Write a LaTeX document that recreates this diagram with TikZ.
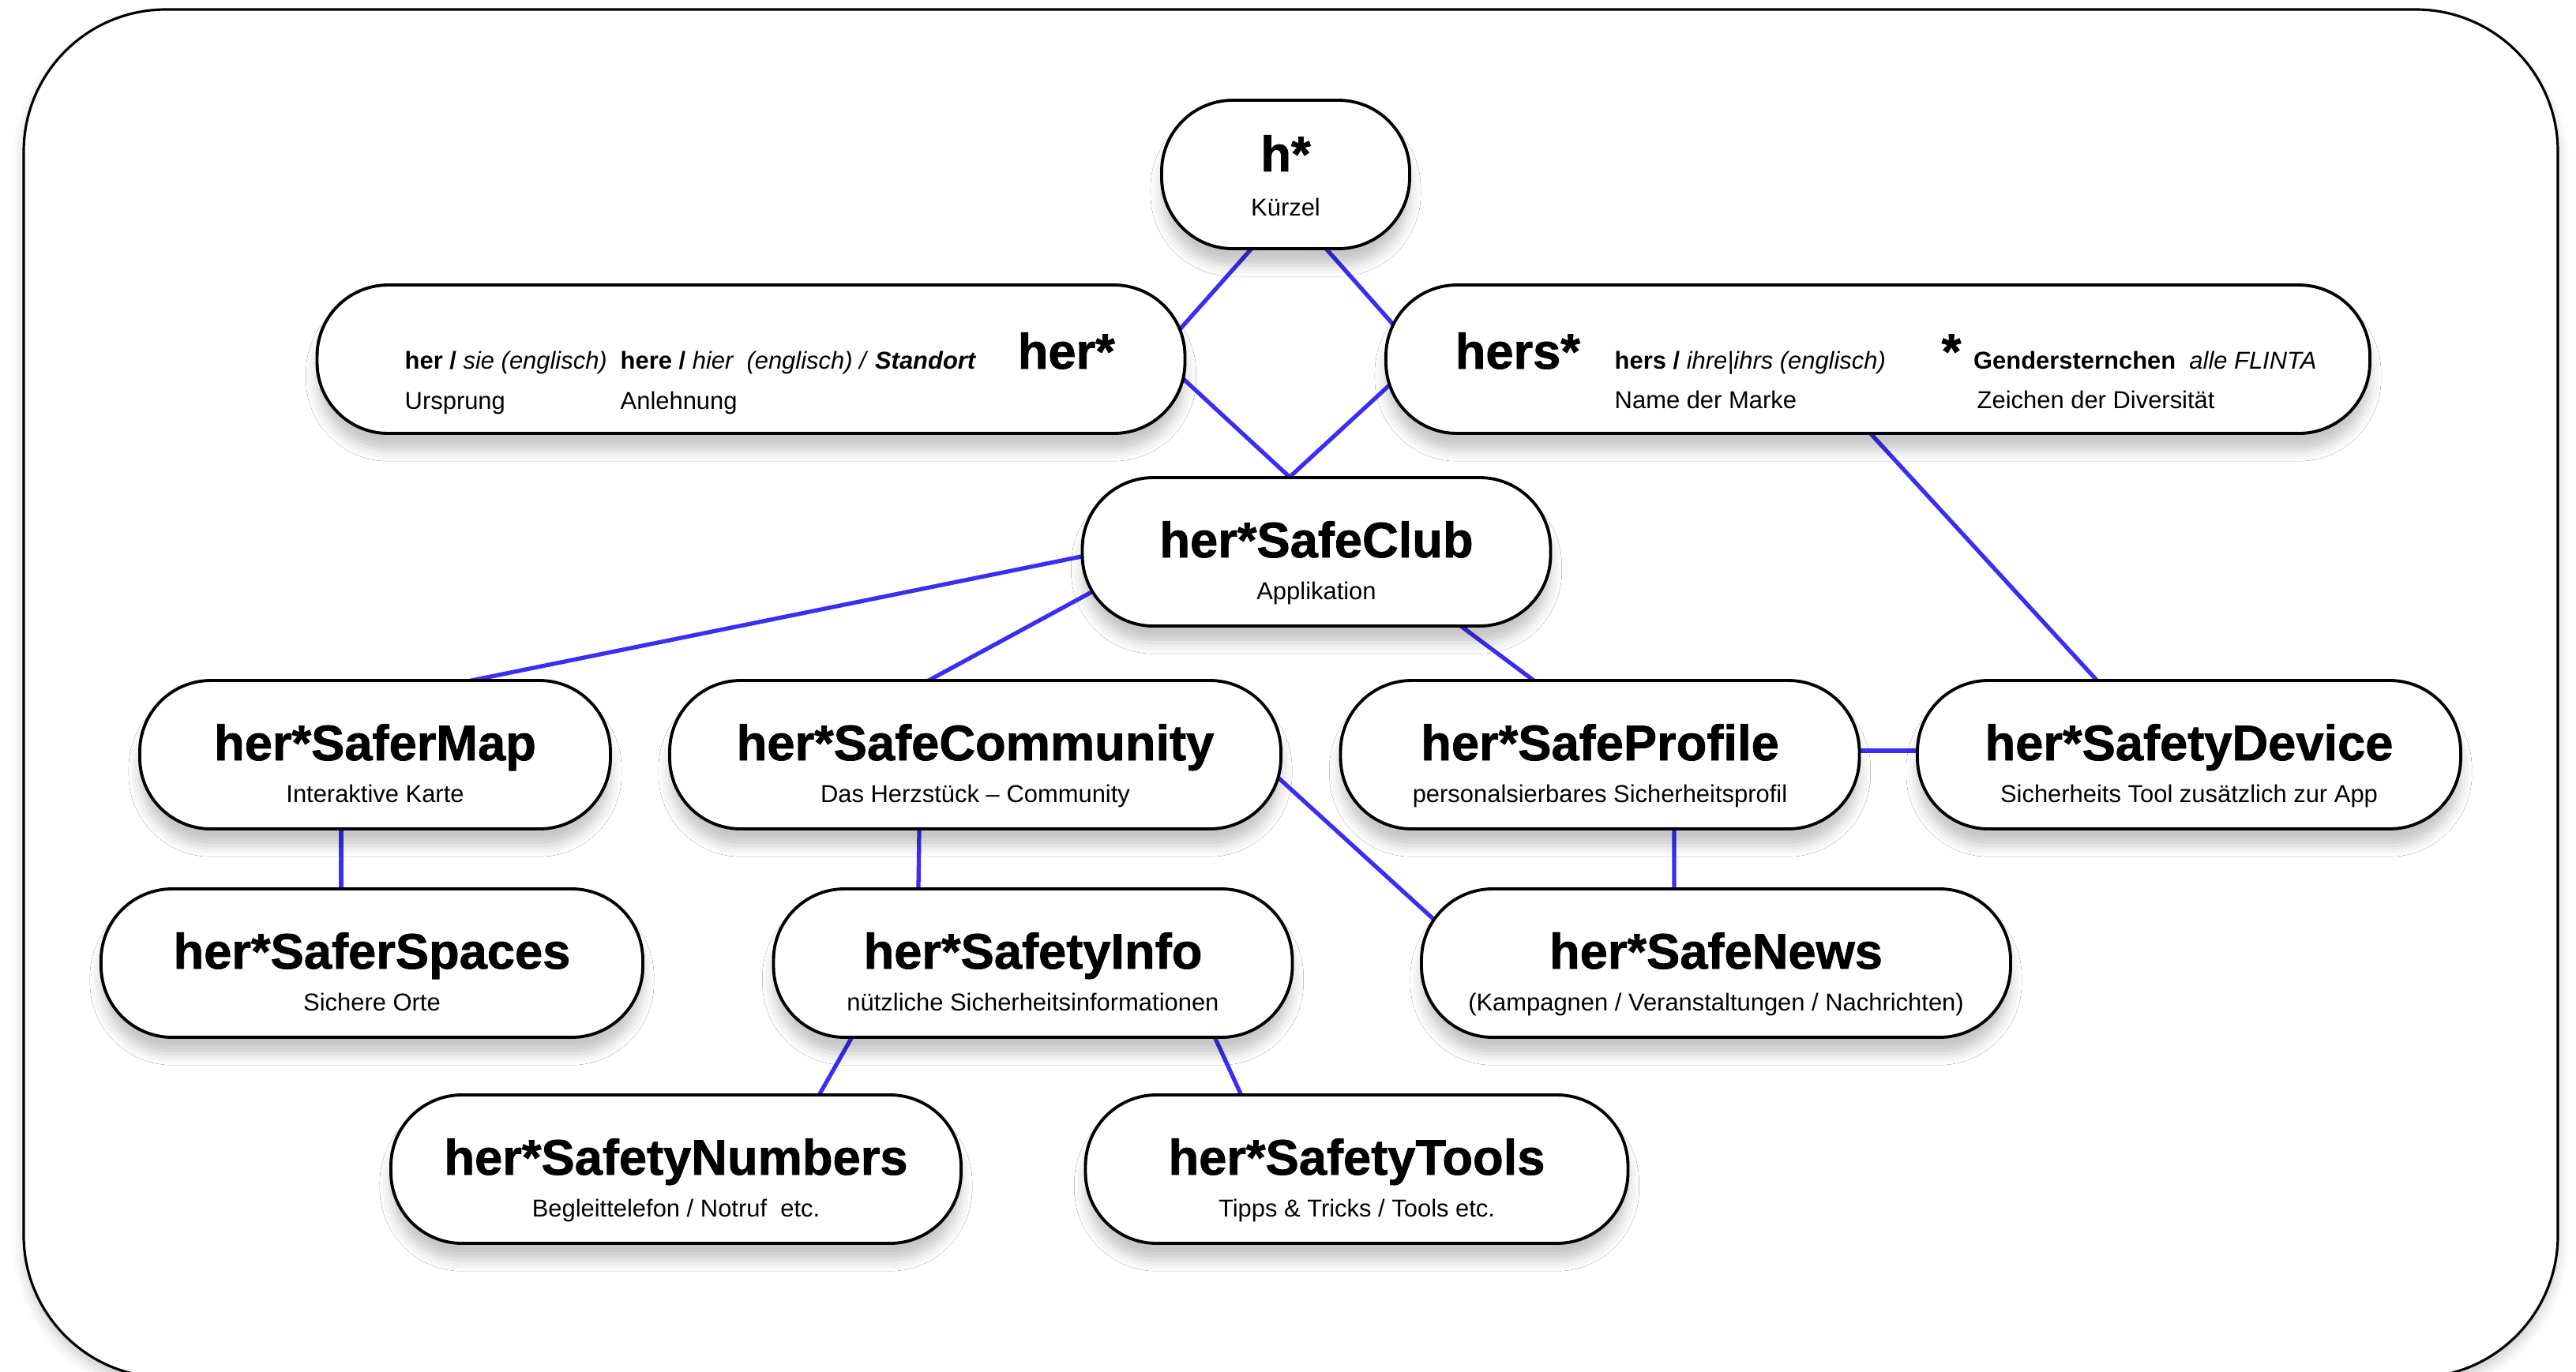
\documentclass[tikz,border=0pt]{standalone}
\usepackage{fontspec}
\setmainfont{Liberation Sans}
\newfontfamily\heavyfont{Liberation Sans}[BoldFeatures={FakeBold=1.2}]
\usetikzlibrary{calc,backgrounds,shadows.blur}

\definecolor{linkblue}{RGB}{58,46,244}

\newcommand{\titlefont}{\heavyfont\fontsize{18pt}{21pt}\selectfont\bfseries}
\newcommand{\subfont}{\fontsize{8.8pt}{10.5pt}\selectfont}

\tikzset{
    app/.style = {
        draw,
        line width=1.1pt,
        fill=white,
        rounded corners=0.9cm,
        minimum height=1.88cm,
        inner sep=0pt,
        blur shadow={shadow xshift=0pt, shadow yshift=-6pt, shadow blur radius=4pt, shadow opacity=22},
        },
    app title/.style = {
        font=\titlefont,
        anchor=base,
        inner sep=0pt,
        },
    app sub/.style = {
        font=\subfont,
        anchor=base,
        inner sep=0pt,
        },
    app note/.style = {
        font=\subfont,
        anchor=base west,
        inner sep=0pt,
        },
    link/.style = {
        draw=linkblue,
        line width=1.5pt,
        },
    frame/.style = {
        draw,
        line width=0.9pt,
        fill=white,
        rounded corners=1.8cm,
        blur shadow={shadow xshift=0pt, shadow yshift=-3pt, shadow blur radius=4pt, shadow opacity=20},
        },
}

% box with title and subtitle
\newcommand{\appnode}[5]{%
    \node[app, minimum width=#3] (#1) at (#2) {};
    \node[app title] (#1-t) at ([yshift=-0.07cm]#1.center) {#4};
    \node[app sub] (#1-s) at ([yshift=-0.60cm]#1.center) {#5};
}

\begin{document}
\begin{tikzpicture}
    \useasboundingbox (0,0) rectangle (32.62,-17.37);

    % top
    \node[app, minimum width=3.14cm] (hstar) at (16.28,-2.21) {};
    \node[app title] (hstar-t) at ([yshift=0.04cm]hstar.center) {h*};
    \node[app sub] (hstar-s) at ([yshift=-0.52cm]hstar.center) {Kürzel};

    % her*
    \node[app, minimum width=10.99cm] (her) at (9.51,-4.55) {};
    \node[app note] (her-a) at ($(her.center)+(-4.39,-0.12)$) {\textbf{her /} \textit{sie (englisch)}};
    \node[app note] (her-b) at ($(her.center)+(-4.39,-0.63)$) {Ursprung};
    \node[app note] (her-c) at ($(her.center)+(-1.66,-0.12)$) {\textbf{here /} \textit{hier\ \ (englisch) /} \textbf{\textit{Standort}}};
    \node[app note] (her-d) at ($(her.center)+(-1.66,-0.63)$) {Anlehnung};
    \node[app note, font=\titlefont] (her-t) at ($(her.center)+(3.37,-0.12)$) {her*};

    % hers*
    \node[app, minimum width=12.46cm] (hers) at (23.78,-4.55) {};
    \node[app note, font=\titlefont] (hers-t) at ($(hers.center)+(-5.36,-0.12)$) {hers*};
    \node[app note] (hers-a) at ($(hers.center)+(-3.34,-0.12)$) {\textbf{hers /} \textit{ihre|ihrs (englisch)}};
    \node[app note] (hers-b) at ($(hers.center)+(-3.34,-0.62)$) {Name der Marke};
    \node[app note] (hers-c) at ($(hers.center)+(0.80,-0.12)$) {{\titlefont *}\hspace{4.5pt}\textbf{Gendersternchen}\ \ \textit{alle FLINTA}};
    \node[app note] (hers-d) at ($(hers.center)+(1.25,-0.62)$) {Zeichen der Diversität};

    % app
    \appnode{club}{16.67,-6.99}{5.93cm}{her*SafeClub}{Applikation}

    % second row
    \appnode{map}{4.75,-9.56}{5.96cm}{her*SaferMap}{Interaktive Karte}
    \appnode{community}{12.35,-9.56}{7.74cm}{her*SafeCommunity}{Das Herzstück – Community}
    \appnode{profile}{20.26,-9.56}{6.57cm}{her*SafeProfile}{personalsierbares Sicherheitsprofil}
    \appnode{device}{27.72,-9.56}{6.88cm}{her*SafetyDevice}{Sicherheits Tool zusätzlich zur App}

    % third row
    \appnode{spaces}{4.71,-12.20}{6.86cm}{her*SaferSpaces}{Sichere Orte}
    \appnode{info}{13.08,-12.20}{6.57cm}{her*SafetyInfo}{nützliche Sicherheitsinformationen}
    \appnode{news}{21.73,-12.20}{7.46cm}{her*SafeNews}{(Kampagnen / Veranstaltungen / Nachrichten)}

    % fourth row
    \appnode{numbers}{8.56,-14.81}{7.22cm}{her*SafetyNumbers}{Begleittelefon / Notruf\ \ etc.}
    \appnode{tools}{17.18,-14.81}{6.87cm}{her*SafetyTools}{Tipps \& Tricks / Tools etc.}

    \begin{scope}[on background layer]
        \draw[frame] (0.30,-0.12) rectangle (32.39,-17.45);

        \draw[link] ([shift={(-0.29,0.18)}]hstar.south) -- ([xshift=-0.42cm]her.east);
        \draw[link] ([shift={(0.37,0.18)}]hstar.south) -- ([xshift=0.50cm]hers.west);
        \draw[link] ([xshift=-0.31cm]her.east) -- ([shift={(-0.18,-0.16)}]club.north);
        \draw[link] ([xshift=0.42cm]hers.west) -- ([shift={(-0.50,-0.16)}]club.north);
        \draw[link] ([shift={(0.40,0.02)}]club.west) -- ([shift={(0.38,-0.19)}]map.north);
        \draw[link] ([shift={(0.45,-0.34)}]club.west) -- ([shift={(-0.98,-0.23)}]community.north);
        \draw[link] ([shift={(1.56,0.22)}]club.south) -- ([shift={(-0.61,-0.19)}]profile.north);
        \draw[link] ([shift={(-0.26,0.20)}]hers.south) -- ([shift={(-1.01,-0.19)}]device.north);
        \draw[link] ([yshift=0.05cm]profile.east) -- ([yshift=0.05cm]device.west);
        \draw[link] ([xshift=-0.43cm]map.south) -- ([xshift=-0.39cm]spaces.north);
        \draw[link] ([xshift=-0.71cm]community.south) -- ([xshift=-1.45cm]info.north);
        \draw[link] ([shift={(-0.23,-0.13)}]community.east) -- ([shift={(-3.35,-0.61)}]news.north);
        \draw[link] ([xshift=0.94cm]profile.south) -- ([xshift=-0.53cm]news.north);
        \draw[link] ([shift={(-2.19,0.20)}]info.south) -- ([shift={(1.71,-0.20)}]numbers.north);
        \draw[link] ([shift={(2.22,0.20)}]info.south) -- ([shift={(-1.38,-0.20)}]tools.north);
    \end{scope}
\end{tikzpicture}
\end{document}
